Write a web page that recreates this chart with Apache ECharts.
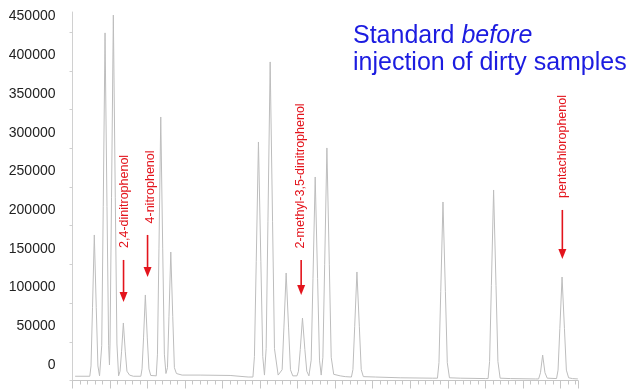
<!DOCTYPE html>
<html><head><meta charset="utf-8">
<script src="https://cdn.jsdelivr.net/npm/echarts@6.0.0/dist/echarts.min.js"></script>
<style>html,body{margin:0;padding:0;background:#fff}#c{width:631px;height:392px}</style>
</head><body><div id="c"></div>
<script>
// Chromatogram trace (retention time, detector signal)
const traceTime = [
  0.07,
  0.461, 0.493, 0.533, 0.581, 0.633, 0.677, 0.721,
  0.747, 0.779, 0.819, 0.867, 0.919, 0.963, 0.985,
  1.0, 1.04, 1.088, 1.14, 1.184, 1.228,
  1.235, 1.267, 1.307, 1.355, 1.407, 1.451, 1.52, 1.62,
  1.821, 1.853, 1.893, 1.941, 1.993, 2.037, 2.085,
  2.232, 2.264, 2.304, 2.352, 2.404, 2.448, 2.49,
  2.531, 2.571, 2.619, 2.671, 2.715, 2.77, 2.92,
  3.4, 4.2, 4.68,
  4.808, 4.848, 4.896, 4.955, 5.019, 5.07, 5.115,
  5.16, 5.208, 5.267, 5.331, 5.382, 5.48,
  5.586, 5.634, 5.693, 5.757, 5.808, 5.87,
  5.981, 6.021, 6.069, 6.128, 6.192, 6.243, 6.3,
  6.36, 6.408, 6.467, 6.531, 6.582, 6.627,
  6.672, 6.72, 6.779, 6.843, 6.894, 6.96, 7.133,
  7.267,
  7.432, 7.472, 7.52, 7.579, 7.643, 7.694, 7.75, 8.067,
  8.733, 9.6,
  9.725, 9.765, 9.813, 9.872, 9.936, 9.987, 10.045, 10.333,
  11.0,
  11.074, 11.114, 11.162, 11.221, 11.285, 11.336, 11.395, 11.667,
  12.333,
  12.42, 12.47, 12.528, 12.59, 12.65,
  12.898, 12.938, 12.986, 13.045, 13.109, 13.16, 13.22, 13.32, 13.467
];
const traceSignal = [
  5500,
  5500, 18800, 94000, 188000, 94000, 18800, 6000,
  6000, 44900, 224500, 449000, 224500, 44900, 20000,
  47200, 236000, 472000, 236000, 47200, 6000,
  6000, 12000, 37000, 74300, 37000, 12000, 7000, 5500,
  5500, 15000, 55000, 110500, 55000, 15000, 6500,
  6000, 34000, 170000, 340400, 170000, 34000, 9000,
  16600, 83000, 166000, 83000, 16600, 9000, 7000,
  7000, 6500, 4500,
  4500, 30800, 154000, 308100, 154000, 30800, 7000,
  41100, 205700, 411500, 205700, 41100, 7000,
  13900, 69000, 138900, 69000, 13900, 6000,
  6000, 12000, 40000, 80750, 40000, 12000, 6000,
  26300, 131500, 262900, 131500, 26300, 7000,
  30000, 150200, 300400, 150200, 30000, 8000, 6000,
  5000,
  4500, 14000, 70100, 140200, 70100, 14000, 5000, 4500,
  3500, 3000,
  3000, 23000, 115300, 230600, 115300, 23000, 3500, 3000,
  2500,
  2500, 24600, 123000, 246100, 123000, 24600, 3000, 2500,
  2000,
  2000, 10000, 32900, 10000, 3000,
  2500, 13400, 66900, 133700, 66900, 13400, 3500, 2500, 2000
];

// Annotated compounds
const annotNames = ['2,4-dinitrophenol', '4-nitrophenol', '2-methyl-3,5-dinitrophenol', 'pentachlorophenol'];
const annotArrowTime = [1.36, 2.0, 6.093, 13.053];
const annotArrowTail = [155700, 188000, 155700, 220300];
const annotArrowTip = [101400, 133700, 110500, 157000];
const annotTextTime = [1.38, 2.09, 6.067, 13.053];
const annotTextMid = [231300, 250000, 264200, 302300];

const titleRoman = 'Standard ';
const titleItalic = 'before';
const titleLine2 = 'injection of dirty samples';

const chart = echarts.init(document.getElementById('c'), null, {renderer: 'canvas'});
const gray = '#c6c6c6';
chart.setOption({
  animation: false,
  grid: {left: 72.5, right: 53, top: 12, bottom: 11.5},
  xAxis: {
    type: 'value', min: 0, max: 13.47, interval: 1,
    axisLine: {lineStyle: {color: gray, width: 1}},
    axisTick: {show: true, length: 8, lineStyle: {color: gray}},
    minorTick: {show: true, splitNumber: 5, length: 4, lineStyle: {color: gray}},
    axisLabel: {show: false},
    splitLine: {show: false}
  },
  yAxis: {
    type: 'value', min: 0, max: 476000, interval: 50000,
    axisLine: {show: true, lineStyle: {color: '#d0d0d0'}},
    axisTick: {show: true, length: 3, lineStyle: {color: '#d0d0d0'}},
    axisLabel: {margin: 17, fontFamily: 'Liberation Sans', fontSize: 14, color: '#222',
      verticalAlign: 'bottom', lineHeight: 31, showMaxLabel: false,
      formatter: (v) => String(v)},
    splitLine: {show: false}
  },
  series: [{
    type: 'line',
    data: traceTime.map((t, i) => [t, traceSignal[i]]),
    showSymbol: false, symbol: 'none',
    lineStyle: {color: '#bdbdbd', width: 1},
    clip: false
  }]
});

const red = '#e3141c';
const blue = '#1c1ce0';
const gr = [];
annotNames.forEach((name, i) => {
  const tail = chart.convertToPixel({gridIndex: 0}, [annotArrowTime[i], annotArrowTail[i]]);
  const tip = chart.convertToPixel({gridIndex: 0}, [annotArrowTime[i], annotArrowTip[i]]);
  const txt = chart.convertToPixel({gridIndex: 0}, [annotTextTime[i], annotTextMid[i]]);
  const ax = tail[0];
  gr.push({type: 'line', shape: {x1: ax, y1: tail[1], x2: ax, y2: tip[1] - 8},
    style: {stroke: red, lineWidth: 1.6}});
  gr.push({type: 'polygon', shape: {points: [[ax - 4, tip[1] - 10], [ax + 4, tip[1] - 10], [ax, tip[1]]]},
    style: {fill: red}});
  gr.push({type: 'text', x: txt[0], y: txt[1], rotation: Math.PI / 2,
    style: {text: name, align: 'center', verticalAlign: 'middle', fontSize: 12.5,
      fontFamily: 'Liberation Sans', fill: red}});
});
gr.push({type: 'text', x: 353, y: 36,
  style: {text: '{a|' + titleRoman + '}{b|' + titleItalic + '}', verticalAlign: 'middle', align: 'left',
    fill: blue, fontSize: 25, fontFamily: 'Liberation Sans',
    rich: {a: {fontSize: 25, fontFamily: 'Liberation Sans', fill: blue, color: blue},
           b: {fontSize: 25, fontFamily: 'Liberation Sans', fontStyle: 'italic', fill: blue, color: blue}}}});
gr.push({type: 'text', x: 353, y: 63.5,
  style: {text: titleLine2, verticalAlign: 'middle', align: 'left', fill: blue,
    fontSize: 25, fontFamily: 'Liberation Sans'}});
chart.setOption({graphic: gr});
</script>
</body></html>
